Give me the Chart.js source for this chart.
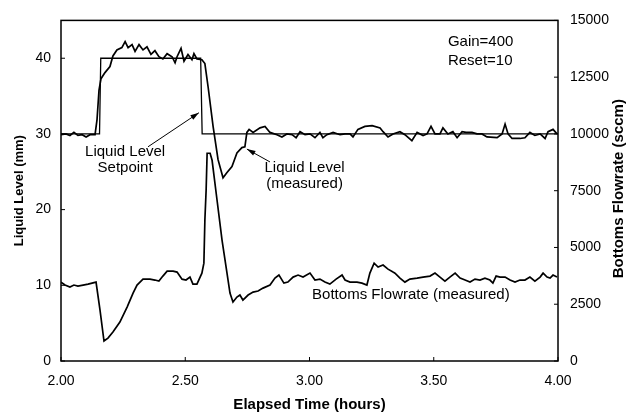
<!DOCTYPE html>
<html>
<head>
<meta charset="utf-8">
<script src="https://cdn.jsdelivr.net/npm/chart.js@4"></script>
<style>
  body { margin: 0; background: #fff; }
</style>
</head>
<body>
<canvas id="myChart" width="628" height="413"></canvas>
<script>
// liquid level (measured), mm
var levelTime = [
  2.000, 2.020, 2.036, 2.052, 2.068, 2.085, 2.101, 2.117, 2.137, 2.145,
  2.153, 2.161, 2.177, 2.197, 2.209, 2.225, 2.245, 2.258, 2.270, 2.286,
  2.298, 2.314, 2.330, 2.346, 2.362, 2.378, 2.394, 2.410, 2.427, 2.447,
  2.459, 2.467, 2.483, 2.495, 2.511, 2.527, 2.535, 2.547, 2.567, 2.579,
  2.592, 2.612, 2.632, 2.652, 2.668, 2.688, 2.708, 2.728, 2.740, 2.748,
  2.757, 2.773, 2.801, 2.821, 2.841, 2.869, 2.889, 2.909, 2.930, 2.946,
  2.962, 2.982, 3.002, 3.022, 3.042, 3.054, 3.070, 3.095, 3.123, 3.143,
  3.163, 3.175, 3.195, 3.223, 3.252, 3.284, 3.296, 3.316, 3.336, 3.364,
  3.384, 3.412, 3.433, 3.457, 3.473, 3.489, 3.505, 3.525, 3.537, 3.557,
  3.577, 3.594, 3.614, 3.630, 3.654, 3.674, 3.694, 3.714, 3.755, 3.775,
  3.787, 3.799, 3.815, 3.847, 3.867, 3.887, 3.907, 3.928, 3.948, 3.960,
  3.980, 3.996
];
var levelValue = [
  29.9, 30.0, 29.8, 30.2, 29.8, 29.9, 29.6, 29.9, 29.9, 31.9,
  35.8, 37.3, 38.1, 38.9, 40.3, 41.1, 41.4, 42.2, 41.4, 41.8,
  40.9, 41.8, 41.1, 41.5, 40.5, 41.0, 40.2, 39.9, 40.6, 40.2,
  39.4, 40.2, 41.3, 39.6, 40.5, 39.8, 40.6, 39.9, 39.8, 39.3,
  36.2, 31.0, 26.6, 24.2, 24.9, 25.7, 27.5, 28.2, 28.3, 30.2,
  30.6, 30.2, 30.8, 31.0, 30.2, 29.9, 29.6, 30.0, 29.9, 29.5,
  30.3, 29.9, 30.0, 29.5, 30.2, 29.5, 29.9, 30.2, 29.9, 30.0,
  30.0, 29.6, 30.6, 31.0, 31.1, 30.8, 30.3, 29.6, 30.0, 30.3,
  29.9, 29.1, 30.2, 29.8, 30.0, 31.0, 30.0, 30.0, 30.8, 30.0,
  30.3, 29.5, 30.3, 30.2, 30.2, 30.0, 30.0, 29.6, 29.5, 30.0,
  31.3, 30.0, 29.4, 29.4, 29.5, 30.2, 29.8, 30.0, 29.4, 30.3,
  30.6, 30.0
];

// liquid level setpoint, mm
var setpointTime = [2.000, 2.155, 2.160, 2.562, 2.568, 4.000];
var setpointValue = [30, 30, 40, 40, 30, 30];

// bottoms flowrate (measured), sccm
var flowTime = [
  2.000, 2.016, 2.036, 2.052, 2.068, 2.089, 2.109, 2.125, 2.141, 2.157,
  2.173, 2.189, 2.209, 2.237, 2.266, 2.290, 2.306, 2.330, 2.358, 2.378,
  2.394, 2.410, 2.427, 2.451, 2.467, 2.487, 2.503, 2.519, 2.531, 2.547,
  2.567, 2.575, 2.579, 2.584, 2.588, 2.600, 2.608, 2.628, 2.648, 2.668,
  2.680, 2.692, 2.708, 2.720, 2.732, 2.753, 2.773, 2.793, 2.813, 2.841,
  2.861, 2.877, 2.897, 2.913, 2.934, 2.954, 2.974, 3.002, 3.022, 3.042,
  3.062, 3.082, 3.107, 3.131, 3.143, 3.163, 3.191, 3.211, 3.231, 3.243,
  3.260, 3.276, 3.296, 3.316, 3.336, 3.344, 3.364, 3.384, 3.404, 3.433,
  3.457, 3.485, 3.505, 3.525, 3.545, 3.565, 3.586, 3.606, 3.626, 3.646,
  3.666, 3.686, 3.706, 3.726, 3.738, 3.751, 3.767, 3.787, 3.807, 3.827,
  3.847, 3.867, 3.887, 3.907, 3.928, 3.940, 3.956, 3.968, 3.980, 3.996
];
var flowValue = [
  3475, 3345, 3255, 3345, 3300, 3345, 3385, 3430, 3475, 2245,
  880, 1010, 1275, 1715, 2375, 2990, 3345, 3605, 3605, 3565,
  3520, 3740, 3960, 3960, 3915, 3605, 3565, 3695, 3385, 3385,
  3870, 4310, 6205, 7520, 9150, 9150, 8840, 7080, 5325, 3870,
  2990, 2595, 2815, 2905, 2685, 2905, 3035, 3080, 3210, 3345,
  3650, 3785, 3430, 3475, 3695, 3785, 3695, 3870, 3565, 3605,
  3475, 3385, 3605, 3785, 3565, 3475, 3475, 3430, 3345, 3870,
  4310, 4135, 4225, 4045, 3915, 3870, 3650, 3475, 3605, 3650,
  3695, 3740, 3870, 3695, 3520, 3695, 3870, 3650, 3565, 3475,
  3605, 3565, 3650, 3565, 3430, 3740, 3695, 3695, 3565, 3475,
  3565, 3565, 3695, 3520, 3695, 3870, 3695, 3650, 3785, 3695
];

// axis ticks
var timeTicks = [2.00, 2.50, 3.00, 3.50, 4.00];
var levelTicks = [0, 10, 20, 30, 40];
var flowTicks = [0, 2500, 5000, 7500, 10000, 12500, 15000];

var FONT = '"Liberation Sans", Arial, sans-serif';

function pairs(xs, ys) {
    return xs.map(function(x, i) { return { x: x, y: ys[i] }; });
}

// frame, inward tick marks, axis titles and the text notes
var decorations = {
    id: 'decorations',
    afterDraw: function(chart) {
        var ctx = chart.ctx;
        var a = chart.chartArea;
        var sx = chart.scales.x, sy = chart.scales.y, sy2 = chart.scales.y2;
        ctx.save();
        ctx.strokeStyle = '#000';
        ctx.fillStyle = '#000';
        ctx.lineWidth = 1.5;
        ctx.strokeRect(a.left, a.top, a.right - a.left, a.bottom - a.top);

        ctx.lineWidth = 1;
        ctx.beginPath();
        timeTicks.forEach(function(t) {
            var p = sx.getPixelForValue(t);
            ctx.moveTo(p, a.bottom); ctx.lineTo(p, a.bottom - 4);
        });
        levelTicks.forEach(function(t) {
            var p = sy.getPixelForValue(t);
            ctx.moveTo(a.left, p); ctx.lineTo(a.left + 4, p);
        });
        flowTicks.forEach(function(t) {
            var p = sy2.getPixelForValue(t);
            ctx.moveTo(a.right, p); ctx.lineTo(a.right - 4, p);
        });
        ctx.stroke();

        // axis titles
        ctx.textAlign = 'center';
        ctx.textBaseline = 'middle';
        ctx.font = 'bold 15px ' + FONT;
        ctx.fillText('Elapsed Time (hours)', (a.left + a.right) / 2, 405);

        ctx.save();
        ctx.translate(19, (a.top + a.bottom) / 2);
        ctx.rotate(-Math.PI / 2);
        ctx.font = 'bold 13px ' + FONT;
        ctx.fillText('Liquid Level (mm)', 0, 0);
        ctx.restore();

        ctx.save();
        ctx.translate(619, (a.top + a.bottom) / 2 - 2);
        ctx.rotate(-Math.PI / 2);
        ctx.font = 'bold 15px ' + FONT;
        ctx.fillText('Bottoms Flowrate (sccm)', 0, 0);
        ctx.restore();

        // notes, placed in data units
        function X(h) { return sx.getPixelForValue(h); }
        function Y(v) { return sy.getPixelForValue(v); }
        ctx.font = '15px ' + FONT;
        ctx.textAlign = 'center';
        ctx.fillText('Liquid Level', X(2.258), Y(27.6));
        ctx.fillText('Setpoint', X(2.258), Y(25.5));
        ctx.fillText('Liquid Level', X(2.98), Y(25.5));
        ctx.fillText('(measured)', X(2.98), Y(23.4));
        ctx.fillText('Bottoms Flowrate (measured)', X(3.408), Y(8.7));
        ctx.textAlign = 'left';
        ctx.fillText('Gain=400', X(3.557), Y(42.1));
        ctx.fillText('Reset=10', X(3.557), Y(39.6));

        function arrow(x1, y1, x2, y2) {
            ctx.lineWidth = 1;
            ctx.beginPath();
            ctx.moveTo(x1, y1); ctx.lineTo(x2, y2);
            ctx.stroke();
            var ang = Math.atan2(y2 - y1, x2 - x1);
            ctx.beginPath();
            ctx.moveTo(x2, y2);
            ctx.lineTo(x2 - 9 * Math.cos(ang - 0.3), y2 - 9 * Math.sin(ang - 0.3));
            ctx.lineTo(x2 - 9 * Math.cos(ang + 0.3), y2 - 9 * Math.sin(ang + 0.3));
            ctx.closePath();
            ctx.fill();
        }
        arrow(X(2.350), Y(28.3), X(2.555), Y(32.8));
        arrow(X(2.841), Y(26.3), X(2.748), Y(28.0));
        ctx.restore();
    }
};

var ctx = document.getElementById('myChart').getContext('2d');

var myChart = new Chart(ctx, {
    type: 'scatter',
    data: {
        datasets: [
            {
                label: 'Liquid Level Setpoint',
                data: pairs(setpointTime, setpointValue),
                yAxisID: 'y',
                showLine: true,
                borderColor: '#000',
                borderWidth: 1.3,
                pointRadius: 0
            },
            {
                label: 'Liquid Level (measured)',
                data: pairs(levelTime, levelValue),
                yAxisID: 'y',
                showLine: true,
                borderColor: '#000',
                borderWidth: 1.7,
                pointRadius: 0
            },
            {
                label: 'Bottoms Flowrate (measured)',
                data: pairs(flowTime, flowValue),
                yAxisID: 'y2',
                showLine: true,
                borderColor: '#000',
                borderWidth: 1.7,
                pointRadius: 0
            }
        ]
    },
    options: {
        responsive: false,
        animation: false,
        devicePixelRatio: 1,
        layout: { padding: { top: 20, left: 0, right: 0, bottom: 0 } },
        plugins: {
            legend: { display: false },
            tooltip: { enabled: false }
        },
        scales: {
            x: {
                type: 'linear',
                min: 2,
                max: 4,
                afterFit: function(s) { s.height = 52; },
                afterBuildTicks: function(s) {
                    s.ticks = timeTicks.map(function(v) { return { value: v }; });
                },
                ticks: {
                    padding: 12,
                    color: '#000',
                    font: { family: FONT, size: 14 },
                    maxRotation: 0,
                    callback: function(v) { return Number(v).toFixed(2); }
                },
                grid: { display: false, drawTicks: false },
                border: { display: false }
            },
            y: {
                position: 'left',
                min: 0,
                max: 45,
                afterFit: function(s) { s.width = 61; },
                afterBuildTicks: function(s) {
                    s.ticks = levelTicks.map(function(v) { return { value: v }; });
                },
                ticks: {
                    padding: 10,
                    color: '#000',
                    font: { family: FONT, size: 14 }
                },
                grid: { display: false, drawTicks: false },
                border: { display: false }
            },
            y2: {
                position: 'right',
                min: 0,
                max: 15000,
                afterFit: function(s) { s.width = 70; },
                afterBuildTicks: function(s) {
                    s.ticks = flowTicks.map(function(v) { return { value: v }; });
                },
                ticks: {
                    padding: 12,
                    color: '#000',
                    font: { family: FONT, size: 14 },
                    callback: function(v) { return String(v); }
                },
                grid: { display: false, drawTicks: false },
                border: { display: false }
            }
        }
    },
    plugins: [decorations]
});
</script>
</body>
</html>
